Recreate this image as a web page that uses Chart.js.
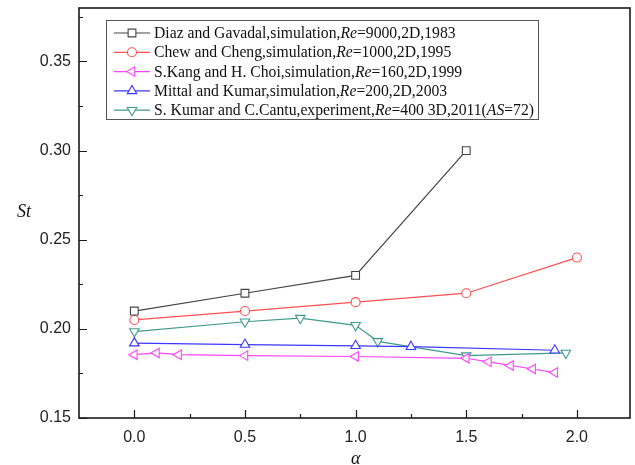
<!DOCTYPE html>
<html>
<head>
<meta charset="utf-8">
<script src="https://cdn.jsdelivr.net/npm/chart.js@4.4.1/dist/chart.umd.min.js"></script>
<style>
  html, body { margin: 0; padding: 0; background: #fff; }
  #wrap { width: 635px; height: 465px; }
</style>
</head>
<body>
<div id="wrap"><canvas id="stChart" width="635" height="465"></canvas></div>
<script>
// Strouhal number vs. alpha, five published studies
const alphaDiaz = [0, 0.5, 1.0, 1.5];
const stDiaz = [0.21, 0.22, 0.23, 0.30];

const alphaChew = [0, 0.5, 1.0, 1.5, 2.0];
const stChew = [0.205, 0.21, 0.215, 0.22, 0.24];

const alphaKang = [0, 0.1, 0.2, 0.5, 1.0, 1.5, 1.6, 1.7, 1.8, 1.9];
const stKang = [0.1855, 0.1865, 0.1855, 0.185, 0.1845, 0.1835, 0.1815, 0.1795, 0.1775, 0.1755];

const alphaMittal = [0, 0.5, 1.0, 1.25, 1.9];
const stMittal = [0.192, 0.1912, 0.1905, 0.19, 0.188];

const alphaKumar = [0, 0.5, 0.75, 1.0, 1.1, 1.5, 1.95];
const stKumar = [0.1985, 0.204, 0.206, 0.202, 0.193, 0.185, 0.1865];

// *...* marks the italic parts of each legend entry
const legendLabels = [
  'Diaz and Gavadal,simulation,*Re*=9000,2D,1983',
  'Chew and Cheng,simulation,*Re*=1000,2D,1995',
  'S.Kang and H. Choi,simulation,*Re*=160,2D,1999',
  'Mittal and Kumar,simulation,*Re*=200,2D,2003',
  'S. Kumar and C.Cantu,experiment,*Re*=400 3D,2011(*AS*=72)'
];

const xTicks = [0, 0.5, 1.0, 1.5, 2.0];
const xMinor = [0.25, 0.75, 1.25, 1.75];
const yTicks = [0.15, 0.20, 0.25, 0.30, 0.35];
const yMinor = [0.175, 0.225, 0.275, 0.325, 0.375];

const toPoints = (xs, ys) => xs.map((x, i) => ({ x: x, y: ys[i] }));

function series(xs, ys, color, style, radius, rotation) {
  return {
    data: toPoints(xs, ys),
    showLine: true,
    borderColor: color,
    borderWidth: 1.2,
    pointStyle: style,
    pointRadius: radius,
    pointRotation: rotation || 0,
    pointBackgroundColor: '#fff',
    pointBorderColor: color,
    pointBorderWidth: 1.1,
    tension: 0
  };
}

const datasets = [
  series(alphaDiaz, stDiaz, '#444444', 'rect', 5.5),
  series(alphaChew, stChew, '#ff5050', 'circle', 4.5),
  series(alphaKang, stKang, '#ff44ff', 'triangle', 5.5, -90),
  series(alphaMittal, stMittal, '#3838ff', 'triangle', 5.5),
  series(alphaKumar, stKumar, '#3f9a8c', 'triangle', 5.5, 180)
];

const tickFont = { family: '"Liberation Sans", Arial, sans-serif', size: 16 };

// frame, inward ticks, axis titles and the boxed legend
const decor = {
  id: 'decor',
  afterDraw(chart) {
    const ctx = chart.ctx;
    const a = chart.chartArea;
    const xs = chart.scales.x, ys = chart.scales.y;
    ctx.save();

    ctx.strokeStyle = '#1a1a1a';
    ctx.lineWidth = 1.2;
    ctx.beginPath();
    yTicks.forEach(v => { const p = Math.round(ys.getPixelForValue(v)) + 0.5; ctx.moveTo(a.left, p); ctx.lineTo(a.left + 8, p); });
    yMinor.forEach(v => { const p = Math.round(ys.getPixelForValue(v)) + 0.5; ctx.moveTo(a.left, p); ctx.lineTo(a.left + 4, p); });
    xTicks.forEach(v => { const p = Math.round(xs.getPixelForValue(v)) + 0.5; ctx.moveTo(p, a.bottom); ctx.lineTo(p, a.bottom - 8); });
    xMinor.forEach(v => { const p = Math.round(xs.getPixelForValue(v)) + 0.5; ctx.moveTo(p, a.bottom); ctx.lineTo(p, a.bottom - 4); });
    ctx.stroke();

    ctx.lineWidth = 1.6;
    ctx.strokeRect(a.left, a.top, a.right - a.left, a.bottom - a.top);

    // axis titles
    ctx.fillStyle = '#111';
    ctx.font = 'italic 18px "Liberation Serif", "Times New Roman", serif';
    ctx.textAlign = 'center';
    ctx.textBaseline = 'middle';
    ctx.fillText('St', 24, 212);
    ctx.fillText('\u03b1', xs.getPixelForValue(1.0), 459);

    // legend
    const boxL = 106.5, boxT = 20.5, boxW = 432, boxH = 99;
    ctx.strokeStyle = '#555';
    ctx.lineWidth = 1;
    ctx.strokeRect(boxL, boxT, boxW, boxH);
    ctx.textAlign = 'left';
    legendLabels.forEach((label, i) => {
      const ds = datasets[i];
      const y = 33 + i * 19.3;
      ctx.strokeStyle = ds.borderColor;
      ctx.lineWidth = 1.2;
      ctx.beginPath();
      ctx.moveTo(114, y);
      ctx.lineTo(150, y);
      ctx.stroke();
      ctx.fillStyle = '#fff';
      ctx.strokeStyle = ds.borderColor;
      ctx.lineWidth = 1.1;
      Chart.helpers.drawPoint(ctx, {
        pointStyle: ds.pointStyle,
        radius: ds.pointRadius,
        rotation: ds.pointRotation,
        borderWidth: 1.1
      }, 132, y);

      ctx.fillStyle = '#111';
      let x = 154;
      label.split('*').forEach((part, k) => {
        ctx.font = (k % 2 ? 'italic ' : '') + '15.7px "Liberation Serif", "Times New Roman", serif';
        ctx.fillText(part, x, y + 1);
        x += ctx.measureText(part).width;
      });
    });
    ctx.restore();
  }
};

new Chart(document.getElementById('stChart').getContext('2d'), {
  type: 'scatter',
  data: { datasets: datasets },
  plugins: [decor],
  options: {
    responsive: false,
    animation: false,
    layout: { autoPadding: false, padding: { top: 8, right: 5, left: 0, bottom: 0 } },
    plugins: { legend: { display: false }, tooltip: { enabled: false } },
    scales: {
      x: {
        type: 'linear',
        min: -0.25,
        max: 2.24,
        afterBuildTicks: s => { s.ticks = xTicks.map(v => ({ value: v })); },
        afterFit: s => { s.height = 47; s.paddingLeft = 0; s.paddingRight = 0; },
        grid: { display: false, drawTicks: false },
        border: { display: false },
        ticks: { font: tickFont, color: '#222', padding: 10, maxRotation: 0, callback: v => v.toFixed(1) }
      },
      y: {
        type: 'linear',
        min: 0.15,
        max: 0.38,
        afterBuildTicks: s => { s.ticks = yTicks.map(v => ({ value: v })); },
        afterFit: s => { s.width = 79; s.paddingTop = 0; s.paddingBottom = 0; },
        grid: { display: false, drawTicks: false },
        border: { display: false },
        ticks: { font: tickFont, color: '#222', padding: 8, callback: v => v.toFixed(2) }
      }
    }
  }
});
</script>
</body>
</html>
